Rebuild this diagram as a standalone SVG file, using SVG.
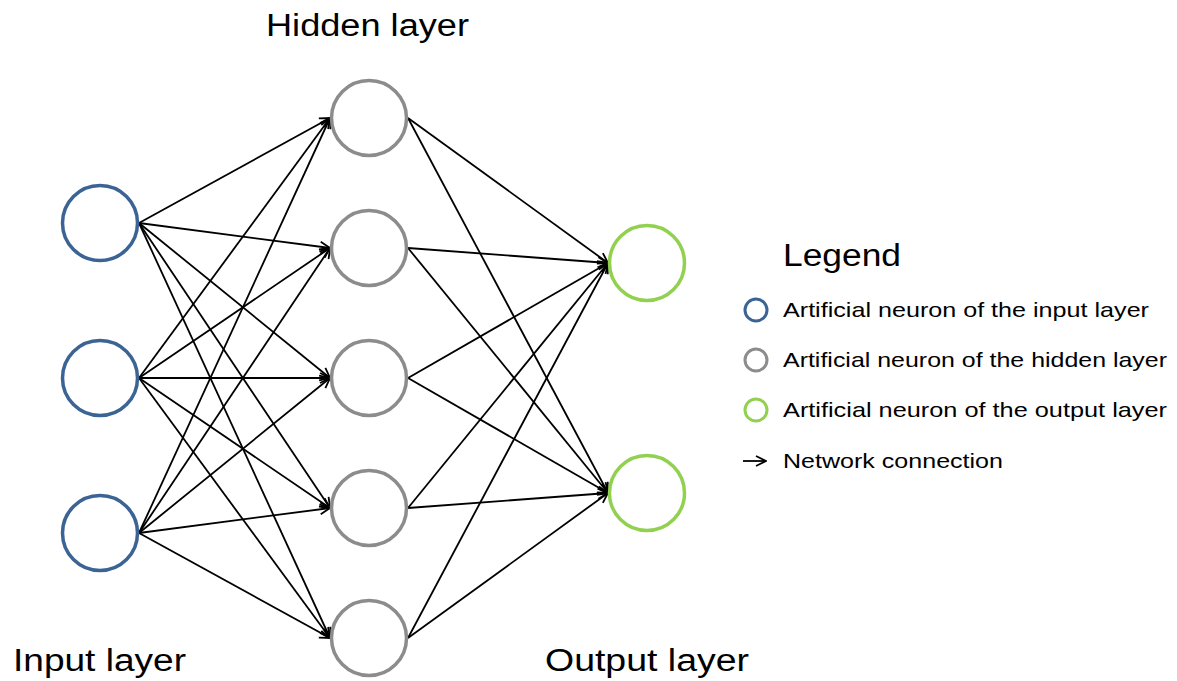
<svg xmlns="http://www.w3.org/2000/svg" width="1177" height="681" viewBox="0 0 1177 681">
<style>
.t{font-family:"Liberation Sans",Arial,sans-serif;fill:#000}
.title{font-size:31px}
.leg{font-size:21px}
.in{fill:#fff;stroke:#3B6495;stroke-width:3.5}
.hid{fill:#fff;stroke:#8C8C8C;stroke-width:3.5}
.out{fill:#fff;stroke:#92D050;stroke-width:3.5}
.c{stroke:#000;stroke-width:1.8;fill:none;marker-end:url(#ah)}
</style>
<defs>
<marker id="ah" viewBox="0 0 12 12" refX="11" refY="6" markerWidth="12" markerHeight="12" markerUnits="userSpaceOnUse" orient="auto">
<path d="M1,1 L11,6 L1,11" fill="none" stroke="#000" stroke-width="1.8"/>
</marker>
</defs>
<rect width="1177" height="681" fill="#fff"/>
<g id="connectors">
<line class="c" x1="139" y1="223" x2="330" y2="118"/>
<line class="c" x1="139" y1="223" x2="330" y2="248"/>
<line class="c" x1="139" y1="223" x2="330" y2="378"/>
<line class="c" x1="139" y1="223" x2="330" y2="508"/>
<line class="c" x1="139" y1="223" x2="330" y2="638"/>
<line class="c" x1="139" y1="378" x2="330" y2="118"/>
<line class="c" x1="139" y1="378" x2="330" y2="248"/>
<line class="c" x1="139" y1="378" x2="330" y2="378"/>
<line class="c" x1="139" y1="378" x2="330" y2="508"/>
<line class="c" x1="139" y1="378" x2="330" y2="638"/>
<line class="c" x1="139" y1="533" x2="330" y2="118"/>
<line class="c" x1="139" y1="533" x2="330" y2="248"/>
<line class="c" x1="139" y1="533" x2="330" y2="378"/>
<line class="c" x1="139" y1="533" x2="330" y2="508"/>
<line class="c" x1="139" y1="533" x2="330" y2="638"/>
<line class="c" x1="408" y1="118" x2="608" y2="263"/>
<line class="c" x1="408" y1="118" x2="608" y2="493"/>
<line class="c" x1="408" y1="248" x2="608" y2="263"/>
<line class="c" x1="408" y1="248" x2="608" y2="493"/>
<line class="c" x1="408" y1="378" x2="608" y2="263"/>
<line class="c" x1="408" y1="378" x2="608" y2="493"/>
<line class="c" x1="408" y1="508" x2="608" y2="263"/>
<line class="c" x1="408" y1="508" x2="608" y2="493"/>
<line class="c" x1="408" y1="638" x2="608" y2="263"/>
<line class="c" x1="408" y1="638" x2="608" y2="493"/>
</g>
<g id="input1"><circle class="in" cx="100" cy="223" r="37.5"/></g>
<g id="input2"><circle class="in" cx="100" cy="378" r="37.5"/></g>
<g id="input3"><circle class="in" cx="100" cy="533" r="37.5"/></g>
<g id="hidden1"><circle class="hid" cx="369" cy="118" r="37.5"/></g>
<g id="hidden2"><circle class="hid" cx="369" cy="248" r="37.5"/></g>
<g id="hidden3"><circle class="hid" cx="369" cy="378" r="37.5"/></g>
<g id="hidden4"><circle class="hid" cx="369" cy="508" r="37.5"/></g>
<g id="hidden5"><circle class="hid" cx="369" cy="638" r="37.5"/></g>
<g id="output1"><circle class="out" cx="647" cy="263" r="37.5"/></g>
<g id="output2"><circle class="out" cx="647" cy="493" r="37.5"/></g>
<g id="labels">
<text class="t title" x="266" y="36" textLength="203" lengthAdjust="spacingAndGlyphs">Hidden layer</text>
<text class="t title" x="13" y="671" textLength="173" lengthAdjust="spacingAndGlyphs">Input layer</text>
<text class="t title" x="545" y="671" textLength="204" lengthAdjust="spacingAndGlyphs">Output layer</text>
</g>
<g id="legend">
<text class="t title" x="783" y="266" textLength="118" lengthAdjust="spacingAndGlyphs">Legend</text>
<circle cx="756" cy="310" r="11" fill="#fff" stroke="#3B6495" stroke-width="3"/>
<circle cx="756" cy="360" r="11" fill="#fff" stroke="#8C8C8C" stroke-width="3"/>
<circle cx="756" cy="410" r="11" fill="#fff" stroke="#92D050" stroke-width="3"/>
<line class="c" x1="743" y1="461" x2="766" y2="461"/>
<text class="t leg" x="783" y="317" textLength="366" lengthAdjust="spacingAndGlyphs">Artificial neuron of the input layer</text>
<text class="t leg" x="783" y="367" textLength="384" lengthAdjust="spacingAndGlyphs">Artificial neuron of the hidden layer</text>
<text class="t leg" x="783" y="417" textLength="384" lengthAdjust="spacingAndGlyphs">Artificial neuron of the output layer</text>
<text class="t leg" x="783" y="468" textLength="220" lengthAdjust="spacingAndGlyphs">Network connection</text>
</g>
</svg>
